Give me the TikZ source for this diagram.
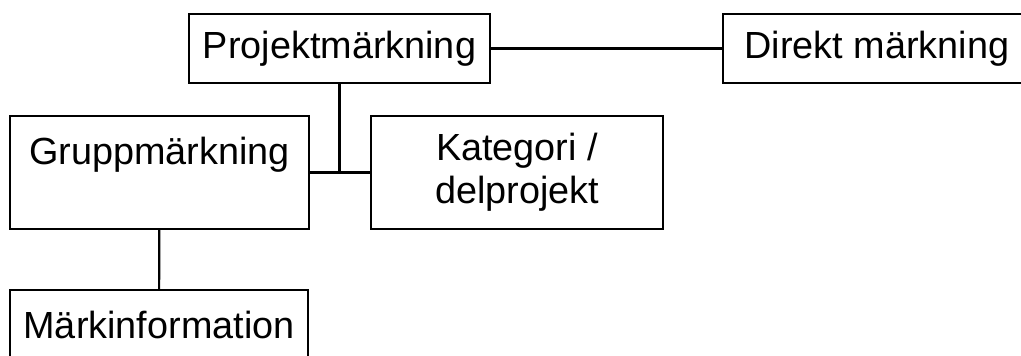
\documentclass[tikz,border=0pt]{standalone}
\usepackage{fontspec}
\setmainfont{Liberation Sans}
\begin{document}
\begin{tikzpicture}
[x=0.5pt, y=-0.5pt, line width=1.1pt,
 nodes={draw=black, line width=1.1pt, fill=white, font=\fontsize{18.9}{21.5}\selectfont, align=center, inner sep=0pt}]
\clip (0,0) rectangle (1021,356);
\node (Proj) at (339.5,48.5) [minimum width=150.5pt, minimum height=34.5pt] {Projektmärkning};
\node (Direkt) at (877,48.5) [minimum width=154pt, minimum height=34.5pt] {Direkt märkning};
\node (Grupp) at (159.5,172.5) [minimum width=149.5pt, minimum height=56.5pt] {Gruppmärkning\\\mbox{}};
\node (Kat) at (517,172.5) [minimum width=146pt, minimum height=56.5pt] {Kategori /\\delprojekt};
\node (Mark) at (159,324.5) [minimum width=149pt, minimum height=34.5pt] {Märkinformation};
\draw (Proj) -- (Direkt);
\draw (Proj) -- (Proj |- Grupp.east);
\draw (Grupp) -- (Kat);
\draw (Grupp) -- (Mark);
\end{tikzpicture}
\end{document}
